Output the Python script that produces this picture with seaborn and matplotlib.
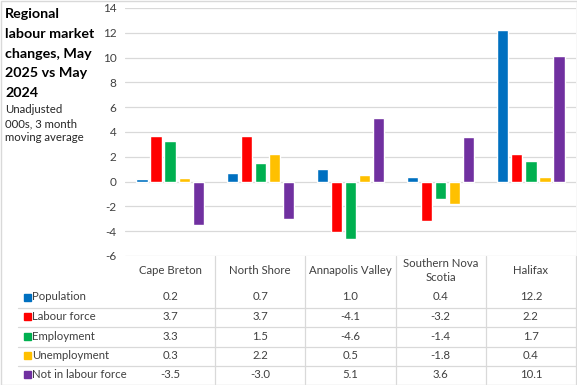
import pandas as pd
import numpy as np
import matplotlib.pyplot as plt
import seaborn as sns
from matplotlib.patches import Rectangle

# Data
regions = ['Cape Breton', 'North Shore', 'Annapolis Valley', 'Southern Nova\nScotia', 'Halifax']
series = ['Population', 'Labour force', 'Employment', 'Unemployment', 'Not in labour force']
population = [0.2, 0.7, 1.0, 0.4, 12.2]
labour_force = [3.7, 3.7, -4.1, -3.2, 2.2]
employment = [3.3, 1.5, -4.6, -1.4, 1.7]
unemployment = [0.3, 2.2, 0.5, -1.8, 0.4]
not_in_lf = [-3.5, -3.0, 5.1, 3.6, 10.1]
colors = ['#0070C0', '#FF0000', '#00B050', '#FFC000', '#7030A0']
yticks = list(range(-6, 15, 2))
title_lines = ['Regional', 'labour market', 'changes, May', '2025 vs May', '2024']
subtitle_lines = ['Unadjusted', '000s, 3 month', 'moving average']

values = [population, labour_force, employment, unemployment, not_in_lf]
df = pd.DataFrame({
    'region': regions * len(series),
    'series': np.repeat(series, len(regions)),
    'value': np.concatenate(values),
})

sns.set_theme(style='white')
plt.rcParams['font.family'] = ['Lato', 'DejaVu Sans']

W, H = 577, 385
fig = plt.figure(figsize=(W / 100, H / 100), dpi=100)

# Main chart area
x0, x1, ytop, ybot = 125, 576, 8, 256
ax = fig.add_axes([x0 / W, 1 - ybot / H, (x1 - x0) / W, (ybot - ytop) / H])
sns.barplot(data=df, x='region', y='value', hue='series', order=regions,
            hue_order=series, palette=colors, width=0.78, gap=0.2,
            saturation=1, legend=False, ax=ax, zorder=3)
ax.set_ylim(-6, 14)
ax.set_xlim(-0.5, len(regions) - 0.5)
ax.set_yticks(yticks)
ax.set_yticklabels([str(t) for t in yticks], fontsize=8.5, color='#404040')
ax.tick_params(axis='y', length=0, pad=6)
ax.set_xticks([])
ax.set_xlabel('')
ax.set_ylabel('')
for t in yticks:
    ax.axhline(t, color='#D9D9D9', lw=0.9, zorder=1)
for s in ax.spines.values():
    s.set_visible(False)

# Overlay for title and data table, in pixel coordinates
ov = fig.add_axes([0, 0, 1, 1], zorder=-1)
ov.set_xlim(0, W)
ov.set_ylim(H, 0)
ov.axis('off')

for k, line in enumerate(title_lines):
    ov.text(5, 18.5 + 19.6 * k, line, fontsize=10.3, fontweight='bold',
            va='baseline', ha='left', color='#000000')
for k, line in enumerate(subtitle_lines):
    ov.text(5, 113 + 14 * k, line, fontsize=8.2, va='baseline', ha='left',
            color='#262626')

line_c = '#D9D9D9'
col_w = (x1 - x0) / len(regions)
centers = [x0 + col_w * (i + 0.5) for i in range(len(regions))]
for i in range(1, len(regions) + 1):
    xb = x0 + col_w * i
    ov.plot([xb, xb], [ybot, H - 1], color=line_c, lw=0.9)

row_y = [297, 316.5, 336, 355.5, 374.5]
for yb in [307.5, 327, 346.5, 365.5]:
    ov.plot([18, x1], [yb, yb], color=line_c, lw=0.9)

for i, name in enumerate(regions):
    ov.text(centers[i], 270.5, name, ha='center', va='center', fontsize=8.2,
            color='#404040', linespacing=1.35)

for r, (name, vals, c) in enumerate(zip(series, values, colors)):
    ov.add_patch(Rectangle((24, row_y[r] - 3.5), 7, 7, color=c))
    ov.text(32, row_y[r], name, ha='left', va='center', fontsize=8.2, color='#404040')
    for i, v in enumerate(vals):
        ov.text(centers[i], row_y[r], f'{v:.1f}', ha='center', va='center',
                fontsize=8.2, color='#404040')

# Outer frame
ov.add_patch(Rectangle((0.5, 0.5), W - 1, H - 1, fill=False, ec='#D9D9D9', lw=1))

fig.savefig('out.png', dpi=100)
